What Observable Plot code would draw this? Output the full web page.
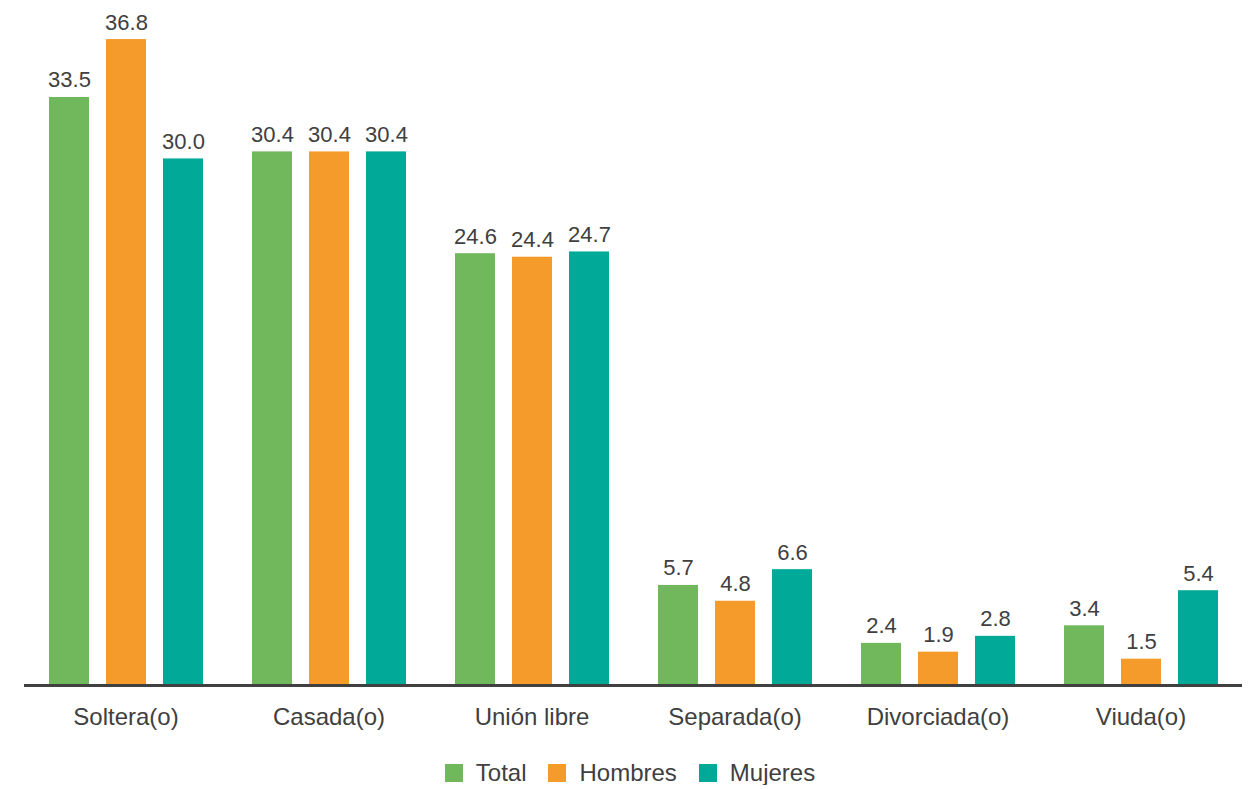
<!DOCTYPE html>
<html>
<head>
<meta charset="utf-8">
<script src="https://cdn.jsdelivr.net/npm/d3@7"></script>
<script src="https://cdn.jsdelivr.net/npm/@observablehq/plot@0.6"></script>
<style>
  body { margin: 0; background: #fff; font-family: "Liberation Sans", Arial, sans-serif; }
  #legend { display: flex; justify-content: center; align-items: center; margin-top: 16px; font-size: 24px; line-height: 24px; color: #404040; padding-left: 10px; }
  #legend .item { display: flex; align-items: center; margin: 0 11px; }
  #legend .sw { width: 18px; height: 18px; margin-right: 13px; }
</style>
</head>
<body>
<div id="chart"></div>
<div id="legend"></div>
<script>
const categories = ["Soltera(o)", "Casada(o)", "Unión libre", "Separada(o)", "Divorciada(o)", "Viuda(o)"];
const series = ["Total", "Hombres", "Mujeres"];
const colors = ["#71B75B", "#F49B2B", "#00A998"];
const totalValues   = [33.5, 30.4, 24.6, 5.7, 2.4, 3.4];
const hombresValues = [36.8, 30.4, 24.4, 4.8, 1.9, 1.5];
const mujeresValues = [30.0, 30.4, 24.7, 6.6, 2.8, 5.4];

const seriesValues = [totalValues, hombresValues, mujeresValues];
const data = [];
categories.forEach((c, i) => {
  series.forEach((s, j) => data.push({cat: c, series: s, value: seriesValues[j][i]}));
});

const chart = Plot.plot({
  width: 1250,
  height: 745,
  marginTop: 18,
  marginBottom: 60,
  marginLeft: 24,
  marginRight: 8,
  style: {fontFamily: '"Liberation Sans", Arial, sans-serif', color: "#404040", background: "#fff"},
  fx: {domain: categories, padding: 0, label: null},
  x: {domain: series, paddingInner: 0.304, paddingOuter: 0.417, axis: null},
  y: {domain: [0, 38], axis: null},
  color: {domain: series, range: colors},
  marks: [
    Plot.barY(data, {fx: "cat", x: "series", y: "value", fill: "series"}),
    Plot.text(data, {fx: "cat", x: "series", y: "value", text: d => d.value.toFixed(1), dy: -10, lineAnchor: "bottom", fontSize: 22, fill: "#404040"}),
    Plot.ruleY([0], {stroke: "#404040", strokeWidth: 3}),
    Plot.axisFx({anchor: "bottom", tickSize: 0, tickPadding: 22, fontSize: 24, label: null})
  ]
});
document.getElementById("chart").appendChild(chart);

const legend = document.getElementById("legend");
series.forEach((s, j) => {
  const item = document.createElement("div");
  item.className = "item";
  const sw = document.createElement("span");
  sw.className = "sw";
  sw.style.background = colors[j];
  const t = document.createElement("span");
  t.textContent = s;
  item.appendChild(sw);
  item.appendChild(t);
  legend.appendChild(item);
});
</script>
</body>
</html>
